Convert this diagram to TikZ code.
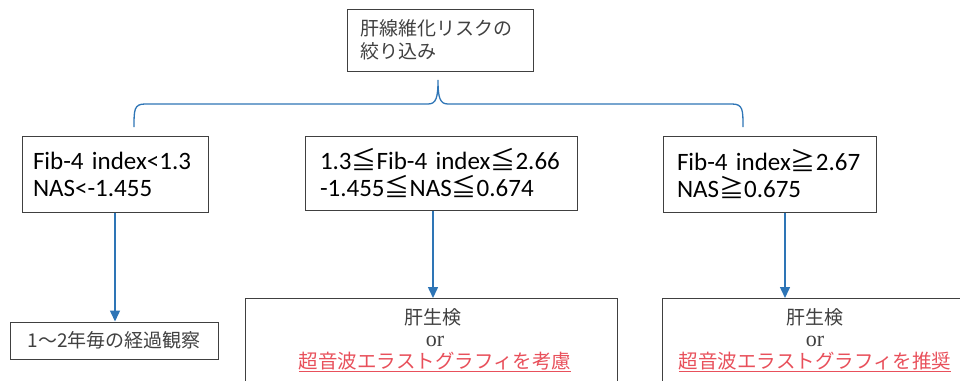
\documentclass[tikz,border=0pt]{standalone}
\usepackage{fontspec}
\setmainfont{Liberation Serif}
\newfontfamily\jpfont{Noto Sans CJK JP}
\newfontfamily\calfont{Carlito}
\usetikzlibrary{arrows.meta}
\definecolor{brblue}{HTML}{2E75B6}
\definecolor{txtgray}{HTML}{404040}
\definecolor{redtxt}{HTML}{E8505B}
\newcommand{\myle}{{\jpfont ≦}}
\newcommand{\myge}{{\jpfont ≧}}
\begin{document}
\begin{tikzpicture}[x=1pt,y=-1pt,
  box/.style={draw=txtgray, line width=1pt, inner sep=0pt},
  jptext/.style={font=\jpfont\fontsize{19}{23}\selectfont, text=txtgray, inner sep=0pt},
  ortext/.style={font=\fontsize{22}{23}\selectfont, text=txtgray, inner sep=0pt},
  redtext/.style={font=\jpfont\fontsize{19.5}{23}\selectfont, text=redtxt, inner sep=0pt},
  crit/.style={box, align=left, font=\calfont\fontsize{25}{27}\selectfont, text=black},
  arr/.style={draw=brblue, line width=1.5pt, -{Triangle[length=11pt,width=10pt]}}]
\useasboundingbox (0,0) rectangle (960,380);
\clip (0,0) rectangle (960,380);
% top
\node[box, minimum width=186pt, minimum height=62pt, text width=160pt, align=left,
  font=\jpfont\fontsize{19}{23}\selectfont, text=txtgray] (top) at (440,40) {肝線維化リスクの\\絞り込み};
% brace
\draw[brblue, line width=1.3pt] (134,127) .. controls (134,110) and (134,104) .. (145,104)
  -- (428,104) .. controls (436,104) and (438,98) .. (438,80)
  .. controls (438,98) and (440,104) .. (448,104)
  -- (732,104) .. controls (743,104) and (743,110) .. (743,127);
% criteria boxes
\node[crit, minimum width=186pt, minimum height=76pt, text width=164pt] (a) at (115,174)
  {Fib-4 index<1.3\\NAS<-1.455};
\node[crit, minimum width=272pt, minimum height=74pt, text width=242pt] (b) at (441,173)
  {1.3\myle Fib-4 index\myle 2.66\\-1.455\myle NAS\myle 0.674};
\node[crit, minimum width=213pt, minimum height=76pt, text width=185pt] (c) at (769.5,174)
  {Fib-4 index\myge 2.67\\NAS\myge 0.675};
% outcome boxes
\node[box, jptext, minimum width=208pt, minimum height=37pt] (d) at (114,340.5) {1～2年毎の経過観察};
\node[box, minimum width=372pt, minimum height=102pt, anchor=north] (e) at (431,298) {};
\node[jptext] (e1) at (433,317) {肝生検};
\node[ortext] (e2) at (435,341) {or};
\node[redtext] (e3) at (435,362) {\underline{超音波エラストグラフィを考慮}};
\node[box, minimum width=310pt, minimum height=102pt, anchor=north] (f) at (817,298) {};
\node[jptext] (f1) at (815,317) {肝生検};
\node[ortext] (f2) at (815,341) {or};
\node[redtext] (f3) at (815,362) {\underline{超音波エラストグラフィを推奨}};
% arrows
\coordinate (ax) at (115,0);
\coordinate (bx) at (433,0);
\coordinate (cx) at (785,0);
\draw[arr] (ax |- a.south) -- (ax |- d.north);
\draw[arr] (bx |- b.south) -- (bx |- e.north);
\draw[arr] (cx |- c.south) -- (cx |- f.north);
\end{tikzpicture}
\end{document}
